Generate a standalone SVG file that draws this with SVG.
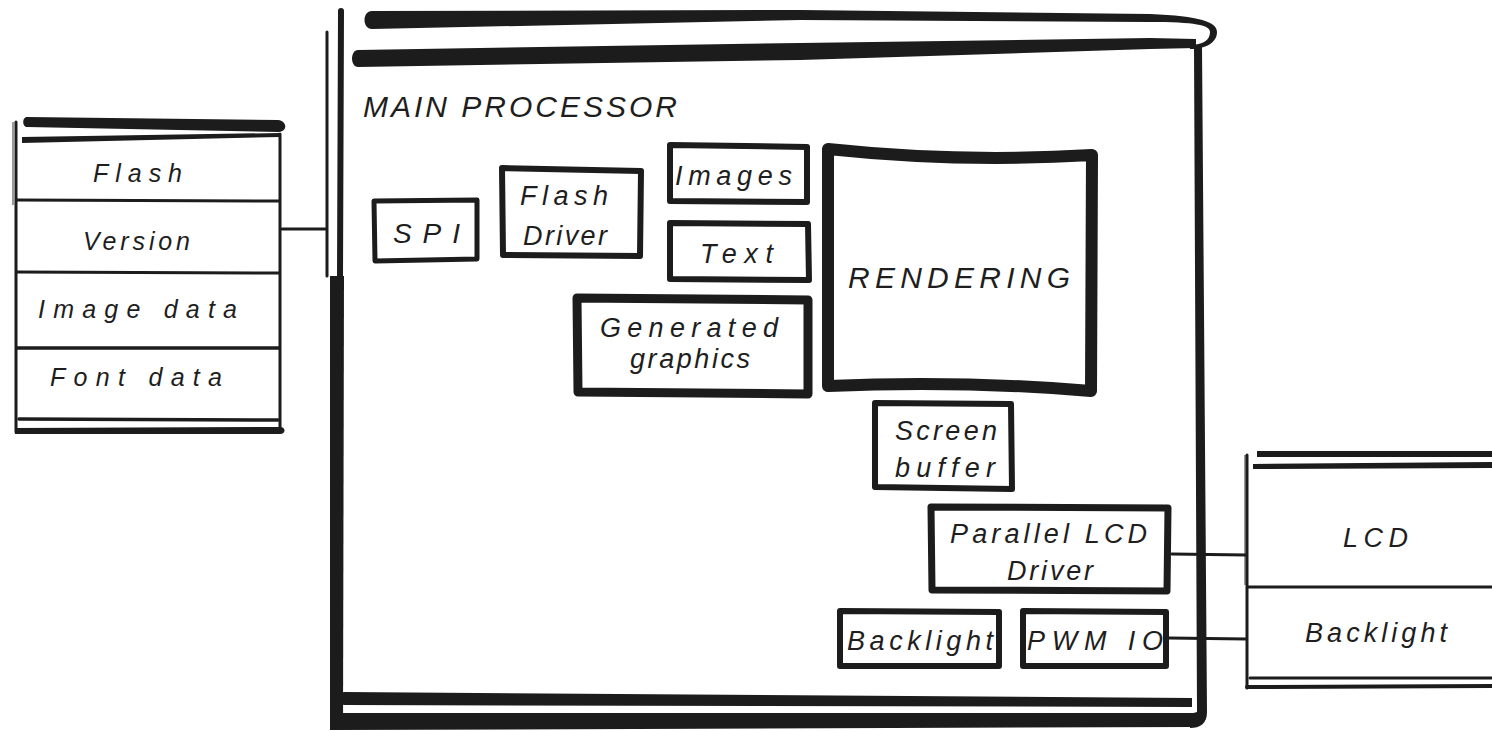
<svg xmlns="http://www.w3.org/2000/svg" width="1492" height="731" viewBox="0 0 1492 731">
<style>
  .ink { fill: none; stroke: #1c1c1c; stroke-linecap: round; stroke-linejoin: round; }
  .solid { fill: #1c1c1c; stroke: none; }
  .box { fill: #ffffff; stroke: #1c1c1c; stroke-linejoin: round; }
  .faint { fill: none; stroke: #9a9a9a; stroke-width: 2; }
  .lbl { font-family: "Liberation Sans", "DejaVu Sans", sans-serif; font-style: italic; fill: #1e1e1e; text-anchor: start; }
</style>
<rect x="0" y="0" width="1492" height="731" fill="#ffffff"/>

<!-- Flash memory block -->
<g id="flash-block">
  <line class="faint" x1="13" y1="122" x2="13" y2="205"/>
  <line class="ink" x1="16" y1="122" x2="16" y2="432" stroke-width="3"/>
  <path class="solid" d="M27,117 L278,120 C287,121 288,131 279,132 L27,127 C22,127 22,117 27,117 Z"/>
  <path class="solid" d="M22,137 L280,133 L280,137 L22,143 Z"/>
  <line class="ink" x1="280" y1="134" x2="280" y2="431" stroke-width="3"/>
  <line class="ink" x1="17" y1="200" x2="279" y2="201" stroke-width="3"/>
  <line class="ink" x1="17" y1="272" x2="279" y2="273" stroke-width="3"/>
  <line class="ink" x1="17" y1="348" x2="279" y2="348" stroke-width="3.5"/>
  <line class="ink" x1="19" y1="419" x2="278" y2="420" stroke-width="3.5"/>
  <path class="solid" d="M15,428 L280,427 C286,427 286,434 280,434 L15,434 Z"/>
  <text class="lbl" x="93" y="182" font-size="25" textLength="89" lengthAdjust="spacing">Flash</text>
  <text class="lbl" x="83" y="250" font-size="25" textLength="107" lengthAdjust="spacing">Version</text>
  <text class="lbl" x="38" y="318" font-size="25" textLength="199" lengthAdjust="spacing">Image data</text>
  <text class="lbl" x="50" y="386" font-size="25" textLength="172" lengthAdjust="spacing">Font data</text>
</g>

<!-- Main processor frame -->
<g id="main-processor">
  <path class="solid" d="M372,11 L800,10 L1150,14 C1200,16 1217,22 1217,32 C1217,43 1205,49 1190,49 L1190,45 C1203,45 1210,40 1210,32 C1210,25 1195,22 1150,22 L800,20 L372,29 C362,29 362,11 372,11 Z"/>
  <path class="solid" d="M358,50 L800,43 L1150,38 L1196,39 L1196,48 L1150,49 L800,60 L358,67 C350,67 350,50 358,50 Z"/>
  <line class="ink" x1="327" y1="32" x2="327" y2="276" stroke-width="3"/>
  <line class="ink" x1="341" y1="11" x2="340" y2="278" stroke-width="6"/>
  <path class="solid" d="M330,276 L344,276 L343,727 L330,729 Z"/>
  <path class="solid" d="M344,692 L1192,698 L1192,707 L344,705 C339,705 339,692 344,692 Z"/>
  <path class="solid" d="M330,713 L1194,713 L1194,727 L330,730 Z"/>
  <path class="solid" d="M1194,46 L1202,46 L1207,712 C1207,724 1200,728 1190,728 L1190,714 L1197,712 Z"/>
  <text class="lbl" x="363" y="117" font-size="30" textLength="314" lengthAdjust="spacing">MAIN PROCESSOR</text>
</g>

<g id="spi">
  <path class="box" stroke-width="5" d="M374,201 L477,200 L477,259 L375,261 Z"/>
  <text class="lbl" x="393" y="243" font-size="28" textLength="67" lengthAdjust="spacing">SPI</text>
</g>

<g id="flash-driver">
  <path class="box" stroke-width="6" d="M502,168 L641,171 L640,256 L503,255 Z"/>
  <text class="lbl" x="520" y="205" font-size="27" textLength="88" lengthAdjust="spacing">Flash</text>
  <text class="lbl" x="523" y="245" font-size="27" textLength="84" lengthAdjust="spacing">Driver</text>
</g>

<g id="images">
  <path class="box" stroke-width="6" d="M670,145 L807,147 L807,202 L670,201 Z"/>
  <text class="lbl" x="675" y="185" font-size="27" textLength="117" lengthAdjust="spacing">Images</text>
</g>

<g id="text-node">
  <path class="box" stroke-width="6" d="M670,223 L808,224 L809,280 L670,279 Z"/>
  <text class="lbl" x="700" y="263" font-size="27" textLength="73" lengthAdjust="spacing">Text</text>
</g>

<g id="generated-graphics">
  <path class="box" stroke-width="9" d="M577,298 L808,300 L808,394 L578,392 Z"/>
  <text class="lbl" x="600" y="337" font-size="27" textLength="178" lengthAdjust="spacing">Generated</text>
  <text class="lbl" x="630" y="368" font-size="27" textLength="120" lengthAdjust="spacing">graphics</text>
</g>

<g id="rendering">
  <path class="box" stroke-width="12" d="M828,149 Q960,163 1092,155 L1091,391 Q960,380 828,386 Z"/>
  <text class="lbl" x="848" y="288" font-size="30" textLength="222" lengthAdjust="spacing">RENDERING</text>
</g>

<g id="screen-buffer">
  <path class="box" stroke-width="6" d="M875,403 L1011,404 L1012,489 L875,487 Z"/>
  <text class="lbl" x="895" y="440" font-size="27" textLength="102" lengthAdjust="spacing">Screen</text>
  <text class="lbl" x="895" y="477" font-size="27" textLength="100" lengthAdjust="spacing">buffer</text>
</g>

<g id="parallel-lcd-driver">
  <path class="box" stroke-width="7" d="M931,507 L1168,508 L1167,591 L932,590 Z"/>
  <text class="lbl" x="950" y="543" font-size="27" textLength="197" lengthAdjust="spacing">Parallel LCD</text>
  <text class="lbl" x="1007" y="580" font-size="27" textLength="86" lengthAdjust="spacing">Driver</text>
</g>

<g id="backlight-ctrl">
  <path class="box" stroke-width="6" d="M840,611 L999,612 L999,666 L840,666 Z"/>
  <text class="lbl" x="847" y="650" font-size="27" textLength="146" lengthAdjust="spacing">Backlight</text>
</g>

<g id="pwm-io">
  <path class="box" stroke-width="6" d="M1023,611 L1166,612 L1166,666 L1023,666 Z"/>
  <text class="lbl" x="1027" y="650" font-size="27" textLength="136" lengthAdjust="spacing">PWM IO</text>
</g>

<!-- LCD module -->
<g id="lcd-block">
  <line class="faint" x1="1245" y1="455" x2="1245" y2="585"/>
  <line class="ink" x1="1247" y1="455" x2="1247" y2="688" stroke-width="3"/>
  <path class="solid" d="M1257,451 L1492,451 L1492,457 L1257,457 Z"/>
  <path class="solid" d="M1253,464 L1492,462 L1492,468 L1253,469 Z"/>
  <line class="ink" x1="1248" y1="587" x2="1492" y2="587" stroke-width="3"/>
  <line class="ink" x1="1250" y1="678" x2="1492" y2="678" stroke-width="3"/>
  <line class="ink" x1="1247" y1="687" x2="1492" y2="686" stroke-width="4"/>
  <text class="lbl" x="1343" y="547" font-size="27" textLength="65" lengthAdjust="spacing">LCD</text>
  <text class="lbl" x="1305" y="642" font-size="27" textLength="142" lengthAdjust="spacing">Backlight</text>
</g>

<!-- Connectors -->
<g id="connectors">
  <line class="ink" x1="282" y1="229" x2="326" y2="229" stroke-width="3"/>
  <line class="ink" x1="1172" y1="554" x2="1246" y2="555" stroke-width="3"/>
  <line class="ink" x1="1169" y1="638" x2="1246" y2="639" stroke-width="3"/>
</g>
</svg>
